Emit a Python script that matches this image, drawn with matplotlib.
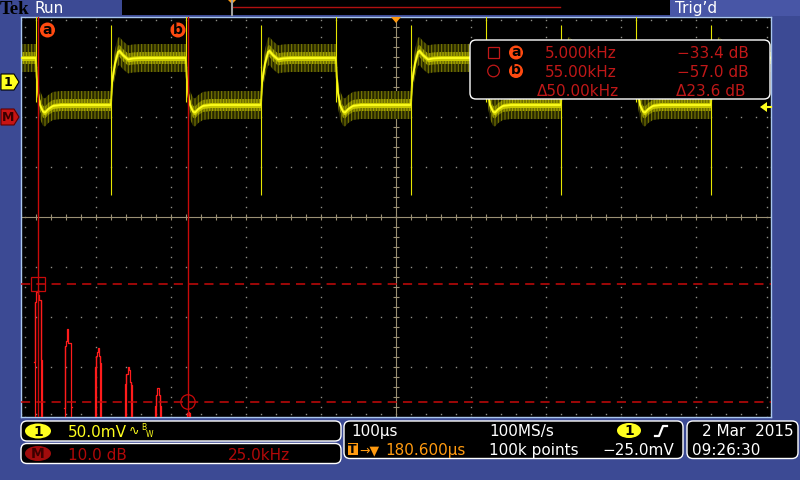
import numpy as np
import matplotlib
matplotlib.use("Agg")
import matplotlib.pyplot as plt
from matplotlib.patches import FancyBboxPatch, Rectangle, Circle, Ellipse, Polygon

# ---- channel 1: 5 kHz square wave ----
ch1_mv_div = 50.0
ch1_pos_div = 2.7
us_div = 100.0
high_mv = 24.0
low_mv = -23.0
fall_edges_us = [-480, -280, -80, 120, 320]
rise_edges_us = [-380, -180, 20, 220, 420]
# step response: time after edge, fraction of the step
rise_t_us = [0, 1.3, 5.3, 9.3, 11.3, 16, 22.7, 29.3, 40]
rise_frac = [0, 0.47, 0.89, 1.13, 1.15, 1.06, 0.97, 0.99, 1.0]
fall_t_us = [0, 0.9, 2.7, 5.3, 9.3, 12, 16, 22.7, 33]
fall_frac = [0, 0.40, 0.74, 1.0, 1.14, 1.16, 1.09, 1.02, 1.0]
noise_mv = [14, 6, 2.5]          # outer / mid / inner noise band half-widths
rise_spike_mv = (57, -113)
fall_spike_mv = (75, -20)
trig_level_mv = -25.0
trig_delay_us = 180.6

# ---- math: FFT of channel 1 ----
db_div = 10.0
db_center = -20.0
khz_div = 25.0
math_pos_div = 2.0
floor_db = -75.0
harmonic_khz = [5, 15, 25, 35, 45, 55]
bin_offsets = [-4, -3, -2, -1, 0, 1, 2, 3, 4]      # bins of 1/3 kHz
harmonic_db = [
    [-48.9, -36.9, -36.5, -34.9, -34.6, -35.5, -36.5, -48.6, -75],
    [-58.2, -45.8, -44.8, -43.8, -42.4, -45.2, -45.2, -58.0, -58.0],
    [-75, -49.9, -47.7, -46.9, -46.2, -47.7, -49.2, -75, -75],
    [-75, -53.3, -51.3, -51.3, -50.0, -50.6, -52.9, -53.6, -75],
    [-75, -57.7, -55.5, -54.2, -54.2, -55.5, -57.7, -75, -75],
    [-75, -75, -75, -59.2, -59.0, -59.2, -75, -75, -75],
]
cursor_khz = [5.0, 55.0]
cursor_db = [-33.4, -57.0]

# ---- colours / layout ----
blue = "#3c4a94"
border = "#a9c6ee"
grid_c = "#8e8e86"
tan = "#9a9074"
yel = "#ffff1e"
red = "#ff1c1c"
cur_red = "#c80a0a"
txt_red = "#c01818"
orange = "#ff4a10"
gx0, gx1, gy0, gy1 = 21, 771, 17, 417
math_x_shift = 2 / 75.0

plt.rcParams["font.family"] = ["DejaVu Sans"]
plt.rcParams["hatch.linewidth"] = 0.8

fig = plt.figure(figsize=(8, 4.8), dpi=100, facecolor=blue)
ax = fig.add_axes([gx0 / 800, 1 - gy1 / 480, (gx1 - gx0) / 800, (gy1 - gy0) / 480])
ax.set_facecolor("black")
ax.set_xlim(-5, 5)
ax.set_ylim(-4, 4)
ax.set_xticks([])
ax.set_yticks([])
for s in ax.spines.values():
    s.set_color(border)
    s.set_linewidth(1)


def mv2div(v):
    return np.asarray(v, dtype=float) / ch1_mv_div + ch1_pos_div


def khz2div(f):
    return np.asarray(f, dtype=float) / khz_div - 5 + math_x_shift


def db2div(d):
    return (np.asarray(d, dtype=float) - db_center) / db_div


# graticule
mx = np.arange(-5, 5.001, 0.2)
my = np.arange(-4, 4.001, 0.2)
dot = dict(ls="", marker="s", ms=1.0, mew=0, color=grid_c, zorder=1)
for g in range(-4, 5):
    if g != 0:
        ax.plot(np.full_like(my, g), my, **dot)
for g in range(-3, 4):
    if g != 0:
        ax.plot(mx, np.full_like(mx, g), **dot)
ax.plot(np.full_like(my, -4.95), my, **dot)
ax.plot(np.full_like(my, 4.95), my, **dot)
ax.plot(mx, np.full_like(mx, -3.94), **dot)
ax.plot(mx, np.full_like(mx, 3.94), **dot)
ax.axhline(0, color=tan, lw=0.8, zorder=1)
ax.axvline(0, color=tan, lw=0.8, zorder=1)
ax.plot(mx, np.zeros_like(mx), ls="", marker="|", ms=5, mew=0.8, color=tan, zorder=1)
ax.plot(np.zeros_like(my), my, ls="", marker="_", ms=5, mew=0.8, color=tan, zorder=1)

# channel 1 trace
edges = sorted([(t, "f") for t in fall_edges_us] + [(t, "r") for t in rise_edges_us])
t_pts = [-520.0]
v_pts = [high_mv]
for t0, kind in edges:
    if kind == "r":
        ts, fr, a, b = rise_t_us, rise_frac, low_mv, high_mv
    else:
        ts, fr, a, b = fall_t_us, fall_frac, high_mv, low_mv
    for dt, f in zip(ts, fr):
        t_pts.append(t0 + dt)
        v_pts.append(a + f * (b - a))
t_pts.append(520.0)
v_pts.append(v_pts[-1])
t_pts = np.array(t_pts)
v_pts = np.array(v_pts)
xt = t_pts / us_div
# outer sparse noise: dark fill with vertical hatch streaks
ax.fill_between(xt, mv2div(v_pts - noise_mv[0]), mv2div(v_pts + noise_mv[0]),
                facecolor="#262600", edgecolor="#7a7a00", hatch="|||||", lw=0, zorder=2)
ax.fill_between(xt, mv2div(v_pts - noise_mv[1]), mv2div(v_pts + noise_mv[1]),
                facecolor="#6e6e00", edgecolor="#a8a800", hatch="||||||", lw=0, zorder=2)
ax.fill_between(xt, mv2div(v_pts - noise_mv[2]), mv2div(v_pts + noise_mv[2]),
                color="#c8c800", lw=0, zorder=2)
ax.plot(xt, mv2div(v_pts), color=yel, lw=1.3, zorder=3)
ax.vlines(np.array(rise_edges_us) / us_div, *mv2div(rise_spike_mv), color="#e6e600", lw=0.8, zorder=3)
ax.vlines(np.array(fall_edges_us) / us_div - 0.004, *mv2div(fall_spike_mv), color="#e6e600", lw=0.8, zorder=3)

# FFT spectrum
for fk, prof in zip(harmonic_khz, harmonic_db):
    fb = fk + np.array(bin_offsets) / 3.0
    ax.plot(khz2div(fb), db2div(prof), color=red, lw=0.9, drawstyle="steps-mid", zorder=4)
    # inner envelope lines running down to the floor
    lit = [i for i, d in enumerate(prof) if d > floor_db]
    i0, i1 = lit[0], lit[-1]
    xl = khz2div(fk + (bin_offsets[i0] + 0.5) / 3.0)
    xr = khz2div(fk + (bin_offsets[i1] - 0.5) / 3.0)
    ax.vlines([xl, xr], db2div(floor_db), [db2div(prof[i0 + 1]), db2div(prof[i1 - 1])],
              color=red, lw=0.9, zorder=4)

# cursors
for fk in cursor_khz:
    ax.axvline(khz2div(fk), color=cur_red, lw=1.0, zorder=5)
for d in cursor_db:
    ax.axhline(db2div(d), color=cur_red, lw=1.1, ls=(0, (6, 4)), zorder=5)
ax.add_patch(Rectangle((khz2div(cursor_khz[0]) - 0.095, db2div(cursor_db[0]) - 0.145), 0.19, 0.29,
                       fill=False, ec=cur_red, lw=0.9, zorder=5))
ax.add_patch(Ellipse((khz2div(cursor_khz[1]), db2div(cursor_db[1])), 0.19, 0.29,
                     fill=False, ec=cur_red, lw=0.9, zorder=5))

# ---- overlay in pixel coordinates ----
ov = fig.add_axes([0, 0, 1, 1], zorder=5)
ov.set_xlim(0, 800)
ov.set_ylim(480, 0)
ov.axis("off")


def px_x(d):
    return (gx0 + gx1) / 2 + d * (gx1 - gx0) / 10


def px_y(d):
    return (gy0 + gy1) / 2 - d * (gy1 - gy0) / 8


def txt(x, yc, s, size=11, color="white", ha="left", **kw):
    ov.text(x, yc + 0.365 * size * 100 / 72, s, fontsize=size, color=color, ha=ha, va="baseline", **kw)


def panel(x, y, w, h, r=6):
    ov.add_patch(FancyBboxPatch((x, y), w, h, boxstyle=f"round,pad=0,rounding_size={r}",
                                fc="black", ec="white", lw=1))


# top bar
ov.text(0, 14, "Tek", fontsize=13.5, family="Liberation Serif", weight="bold", color="black", va="baseline")
ov.text(35, 12.7, "Run", fontsize=11, color="white", va="baseline")
ov.add_patch(Rectangle((122, 0), 548, 15, fc="black", lw=0))
ov.add_patch(Rectangle((670, 0), 130, 16, fc="#4856a6", lw=0))
ov.text(675, 12.5, "Trig\u2019d", fontsize=11, color="white", va="baseline")
ov.plot([232, 560], [7, 7], color="#b01010", lw=1)
ov.plot([232, 232], [0, 15], color="#a0a0a0", lw=1.5)
ov.add_patch(Polygon([(228, 0), (236, 0), (232, 4)], fc="#ff9a10", lw=0))
# trigger position marker
tx = px_x(0)
ov.add_patch(Polygon([(tx - 5, gy0), (tx + 5, gy0), (tx, gy0 + 6)], fc="#ff9a10", lw=0))

# channel / math markers on the left
y1 = px_y(ch1_pos_div)
ov.add_patch(Polygon([(1, y1 - 8), (14, y1 - 8), (19, y1), (14, y1 + 8), (1, y1 + 8)], fc=yel, ec="black", lw=0.8))
ov.text(8, y1 + 0.5, "1", fontsize=9, color="black", weight="bold", ha="center", va="center")
ym = px_y(math_pos_div)
ov.add_patch(Polygon([(1, ym - 8), (14, ym - 8), (19, ym), (14, ym + 8), (1, ym + 8)], fc="#c81414", ec="#600000", lw=0.8))
ov.text(8, ym + 0.5, "M", fontsize=9, color="#3a0000", weight="bold", ha="center", va="center")
# trigger level arrow on the right
yt = px_y(float(mv2div(trig_level_mv)))
ov.add_patch(Polygon([(760, yt), (767, yt - 5), (767, yt + 5)], fc=yel, lw=0))
ov.plot([766, 771], [yt, yt], color=yel, lw=1.5)

# cursor tags a / b
ca = px_x(float(khz2div(cursor_khz[0])))
cb = px_x(float(khz2div(cursor_khz[1])))
for cx, lab in [(ca + 9.5, "a"), (cb - 10, "b")]:
    ov.add_patch(Circle((cx, 30), 7.5, fc=orange, lw=0))
    ov.text(cx, 29.5, lab, fontsize=10, color="black", weight="bold", ha="center", va="center")

# cursor readout
panel(470, 40, 300, 59)
ov.add_patch(Rectangle((488, 47), 11, 11, fill=False, ec=txt_red, lw=0.9))
ov.add_patch(Circle((493.5, 71), 5.8, fill=False, ec=txt_red, lw=0.9))
for yy, lab in [(52.5, "a"), (71, "b")]:
    ov.add_patch(Circle((516, yy), 7, fc=orange, lw=0))
    ov.text(516, yy - 0.5, lab, fontsize=10, color="black", weight="bold", ha="center", va="center")
d_khz = cursor_khz[1] - cursor_khz[0]
d_db = cursor_db[0] - cursor_db[1]
txt(545, 52.5, f"{cursor_khz[0]:.3f}kHz", color=txt_red)
txt(545, 71, f"{cursor_khz[1]:.2f}kHz", color=txt_red)
txt(537, 90, f"\u0394{d_khz:.2f}kHz", color=txt_red)
txt(677, 52.5, f"\u2212{abs(cursor_db[0]):.1f} dB", color=txt_red)
txt(677, 71, f"\u2212{abs(cursor_db[1]):.1f} dB", color=txt_red)
txt(676, 90, f"\u0394{d_db:.1f} dB", color=txt_red)

# bottom panels
panel(21, 421, 320, 20)
ov.add_patch(Ellipse((38, 431), 26, 15, fc=yel, lw=0))
ov.text(38, 431.5, "1", fontsize=10, color="black", weight="bold", ha="center", va="center")
txt(68, 431, f"{ch1_mv_div:.1f}mV", color=yel)
ov.text(129, 435, "\u223f", fontsize=9, color=yel, va="baseline")
ov.text(141, 429.5, "B", fontsize=5.5, color=yel, va="baseline")
ov.text(146, 437, "W", fontsize=5.5, color=yel, va="baseline")

panel(21, 443.5, 320, 20)
ov.add_patch(Ellipse((38, 453.5), 26, 15, fc="#a00c0c", lw=0))
ov.text(38, 454, "M", fontsize=10, color="#3c0000", weight="bold", ha="center", va="center")
txt(68, 454, f"{db_div:.1f} dB", color="#b00808")
txt(228, 454, f"{khz_div:.1f}kHz", color="#b00808")

panel(344, 421, 339, 37.5)
txt(351, 430.5, f"{us_div:.0f}\u00b5s")
txt(489, 430.5, "100MS/s")
ov.add_patch(Ellipse((629, 430.5), 24, 15, fc=yel, lw=0))
ov.text(629, 431, "1", fontsize=10, color="black", weight="bold", ha="center", va="center")
ov.plot([655, 659, 663, 667], [436, 436, 426, 426], color="white", lw=1.6)
ov.add_patch(Rectangle((347.5, 443), 10, 12, fc="#ff9a10", lw=0))
ov.text(352.5, 449.5, "T", fontsize=9, color="black", weight="bold", ha="center", va="center")
txt(359, 449.5, "\u2192\u25bc", color="#ff9a10", size=9)
txt(385, 449.5, f"{trig_delay_us:.3f}\u00b5s", color="#ff9a10")
txt(489, 449.5, "100k points")
txt(602, 449.5, f"\u2212{abs(trig_level_mv):.1f}mV")

panel(687, 421, 111, 37.5)
txt(702, 430.5, "2 Mar  2015")
txt(692, 449.5, "09:26:30")

fig.savefig("out.png", dpi=100, facecolor=blue)
